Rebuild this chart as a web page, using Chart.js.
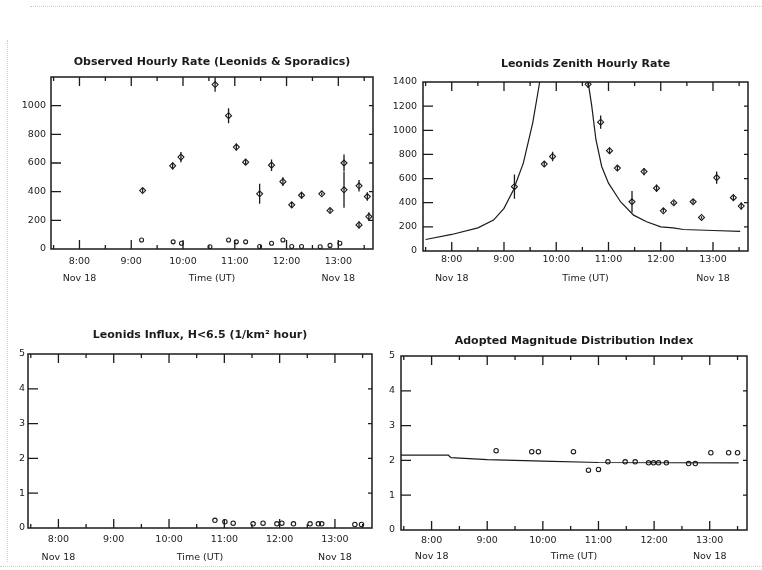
<!DOCTYPE html>
<html>
<head>
<meta charset="utf-8">
<title>Leonids - Nov 18</title>
<script src="https://cdn.jsdelivr.net/npm/chart.js@4/dist/chart.umd.min.js"></script>
<style>
  html, body { margin: 0; padding: 0; background: #fff; }
  #page { position: relative; width: 762px; height: 570px; overflow: hidden; background: #fff; }
  #page canvas { position: absolute; left: 0; top: 0; }
  .scan { position: absolute; border: 0 dotted #cdcdcd; }
</style>
</head>
<body>
<div id="page">
  <!-- faint scanner edges -->
  <div class="scan" style="left:30px; top:6px; width:732px; border-top-width:1px;"></div>
  <div class="scan" style="left:7px; top:40px; height:522px; border-left-width:1px;"></div>
  <div class="scan" style="left:0; top:566px; width:762px; border-top-width:1px;"></div>
  <canvas id="rateChart" width="762" height="570"></canvas>
  <canvas id="zhrChart" width="762" height="570"></canvas>
  <canvas id="fluxChart" width="762" height="570"></canvas>
  <canvas id="indexChart" width="762" height="570"></canvas>
</div>
<script>
// time axis shared by the four panels (hours UT, Nov 18)
const timeMin = 7.45;
const timeMax = 13.67;
const hourTicks = [8, 9, 10, 11, 12, 13];
const hourLabels = [['8:00', 'Nov 18'], '9:00', '10:00', '11:00', '12:00', ['13:00', 'Nov 18']];

// observed hourly rate, Leonids
const obsTime = [9.22, 9.80, 9.96, 10.62, 10.88, 11.03, 11.21, 11.48, 11.71, 11.93, 12.10, 12.29, 12.68, 12.84, 13.11, 13.11, 13.40, 13.40, 13.56, 13.59];
const obsRate = [408, 580, 641, 1147, 930, 711, 606, 385, 585, 470, 308, 375, 385, 268, 600, 413, 441, 168, 366, 226];
const obsErr = [15, 25, 35, 50, 52, 25, 20, 70, 40, 30, 20, 25, 10, 15, 60, 125, 40, 25, 30, 30];
// observed hourly rate, sporadics
const sporTime = [9.20, 9.81, 9.97, 10.52, 10.88, 11.03, 11.21, 11.48, 11.71, 11.93, 12.10, 12.29, 12.65, 12.84, 13.03];
const sporRate = [63, 50, 40, 16, 63, 50, 50, 17, 40, 63, 17, 17, 16, 25, 40];
const rateTicks = [0, 200, 400, 600, 800, 1000];

// Leonids zenith hourly rate
const zhrTime = [9.20, 9.77, 9.93, 10.61, 10.85, 11.02, 11.17, 11.45, 11.68, 11.92, 12.05, 12.25, 12.62, 12.78, 13.07, 13.39, 13.54];
const zhrRate = [533, 720, 783, 1381, 1067, 831, 687, 408, 658, 520, 333, 400, 408, 278, 608, 442, 372];
const zhrErr = [100, 25, 40, 30, 55, 25, 25, 90, 30, 30, 15, 15, 15, 10, 50, 20, 30];
// model profile (goes off the top of the panel around the peak)
const modelTime = [7.5, 8.0, 8.5, 8.8, 9.0, 9.18, 9.37, 9.55, 9.66, 9.72, 9.85, 10.0, 10.15, 10.3, 10.45, 10.55, 10.6, 10.68, 10.76, 10.87, 11.0, 11.23, 11.48, 11.73, 12.0, 12.24, 12.43, 13.0, 13.52];
const modelZhr = [95, 137, 192, 256, 353, 506, 728, 1062, 1340, 1500, 2200, 3200, 3600, 3000, 2100, 1650, 1430, 1200, 922, 700, 562, 408, 297, 242, 200, 192, 178, 170, 162];
const zhrTicks = [0, 200, 400, 600, 800, 1000, 1200, 1400];

// Leonids influx, H < 6.5
const fluxTime = [10.83, 11.01, 11.16, 11.52, 11.70, 11.95, 12.04, 12.25, 12.55, 12.70, 12.76, 13.36, 13.48];
const fluxVal = [0.22, 0.18, 0.14, 0.12, 0.14, 0.12, 0.14, 0.12, 0.12, 0.12, 0.12, 0.10, 0.10];
const unitTicks = [0, 1, 2, 3, 4, 5];

// adopted magnitude distribution index
const rTime = [9.16, 9.80, 9.92, 10.55, 10.82, 11.00, 11.17, 11.48, 11.66, 11.90, 11.99, 12.08, 12.22, 12.62, 12.74, 13.02, 13.34, 13.50];
const rVal = [2.28, 2.25, 2.25, 2.25, 1.72, 1.74, 1.96, 1.96, 1.96, 1.93, 1.93, 1.93, 1.93, 1.91, 1.91, 2.22, 2.22, 2.22];
const rLineTime = [7.45, 8.3, 8.35, 9.0, 10.0, 11.0, 13.52];
const rLineVal = [2.15, 2.15, 2.08, 2.02, 1.98, 1.94, 1.93];

const ink = '#1b1b1b';
const tickFont = { family: 'DejaVu Sans', size: 9.5 };
const titleFont = { family: 'DejaVu Sans', size: 11, weight: 'bold', lineHeight: 1.2 };

function pts(xs, ys) {
    return xs.map((x, i) => ({ x: x, y: ys[i] }));
}

// vertical error bars, read from dataset.errors
const errorBarPlugin = {
    id: 'errorBars',
    afterDatasetsDraw(chart) {
        const { ctx, chartArea: a, scales: { x, y } } = chart;
        ctx.save();
        ctx.beginPath();
        ctx.rect(a.left, a.top, a.right - a.left, a.bottom - a.top);
        ctx.clip();
        ctx.strokeStyle = ink;
        ctx.lineWidth = 1.3;
        chart.data.datasets.forEach(ds => {
            if (!ds.errors) return;
            ctx.beginPath();
            ds.data.forEach((p, i) => {
                const px = x.getPixelForValue(p.x);
                ctx.moveTo(px, y.getPixelForValue(p.y - ds.errors[i]));
                ctx.lineTo(px, y.getPixelForValue(p.y + ds.errors[i]));
            });
            ctx.stroke();
        });
        ctx.restore();
    }
};

// box round the plot with inward ticks on all sides
const framePlugin = {
    id: 'frame',
    afterDraw(chart) {
        const { ctx, chartArea: a, scales: { x, y } } = chart;
        ctx.save();
        ctx.strokeStyle = ink;
        ctx.lineWidth = 1.5;
        ctx.strokeRect(a.left, a.top, a.right - a.left, a.bottom - a.top);
        ctx.lineWidth = 1.3;
        ctx.beginPath();
        x.ticks.forEach(t => {
            const px = x.getPixelForValue(t.value);
            ctx.moveTo(px, a.bottom); ctx.lineTo(px, a.bottom - 9);
            ctx.moveTo(px, a.top); ctx.lineTo(px, a.top + 9);
            [t.value - 0.5, t.value + 0.5].forEach(h => {
                if (h <= x.min || h >= x.max) return;
                const hx = x.getPixelForValue(h);
                ctx.moveTo(hx, a.bottom); ctx.lineTo(hx, a.bottom - 4);
                ctx.moveTo(hx, a.top); ctx.lineTo(hx, a.top + 4);
            });
        });
        y.ticks.forEach(t => {
            if (t.value <= y.min || t.value >= y.max) return;
            const py = y.getPixelForValue(t.value);
            ctx.moveTo(a.left, py); ctx.lineTo(a.left + 10, py);
            ctx.moveTo(a.right, py); ctx.lineTo(a.right - 4, py);
        });
        ctx.stroke();
        ctx.restore();
    }
};

function pointSet(data, errors, style, radius) {
    return {
        data: data,
        errors: errors,
        showLine: false,
        pointStyle: style,
        pointRadius: radius,
        pointBorderColor: ink,
        pointBackgroundColor: 'rgba(0,0,0,0)',
        pointBorderWidth: 1.1
    };
}

function lineSet(data) {
    return {
        data: data,
        showLine: true,
        borderColor: ink,
        borderWidth: 1.2,
        pointRadius: 0,
        tension: 0
    };
}

// p.area is where the plot box sits on the page, titleY / line1Y / line2Y are text rows
function makePanel(id, p) {
    const lh = p.line2Y - p.line1Y;
    const xPad = p.line1Y - p.area.bottom - lh / 2;
    const xH = p.line2Y - p.area.bottom + lh / 2;
    const yW = Math.min(30, p.area.left);
    return new Chart(document.getElementById(id), {
        type: 'scatter',
        data: { datasets: p.datasets },
        options: {
            responsive: false,
            animation: false,
            events: [],
            layout: {
                padding: {
                    left: p.area.left - yW,
                    right: 762 - p.area.right,
                    top: 0,
                    bottom: 570 - p.area.bottom - xH
                }
            },
            plugins: {
                legend: { display: false },
                tooltip: { enabled: false },
                title: {
                    display: true,
                    text: p.title,
                    fullSize: false,
                    color: ink,
                    font: titleFont,
                    padding: { top: p.titleY - 6.6, bottom: p.area.top - p.titleY - 6.6 }
                }
            },
            scales: {
                x: {
                    type: 'linear',
                    min: timeMin,
                    max: timeMax,
                    grid: { display: false, drawTicks: false },
                    border: { display: false },
                    afterBuildTicks: s => { s.ticks = hourTicks.map(v => ({ value: v })); },
                    ticks: {
                        padding: xPad,
                        autoSkip: false,
                        maxRotation: 0,
                        color: ink,
                        font: Object.assign({ lineHeight: lh + 'px' }, tickFont),
                        callback: v => hourLabels[hourTicks.indexOf(v)]
                    },
                    title: {
                        display: true,
                        text: 'Time (UT)',
                        padding: 0,
                        color: ink,
                        font: Object.assign({ lineHeight: lh + 'px' }, tickFont)
                    },
                    afterFit: s => { s.height = xH; }
                },
                y: {
                    type: 'linear',
                    min: 0,
                    max: p.yMax,
                    grid: { display: false, drawTicks: false },
                    border: { display: false },
                    afterBuildTicks: s => { s.ticks = p.yTicks.map(v => ({ value: v })); },
                    ticks: {
                        padding: p.yPad,
                        color: ink,
                        font: tickFont,
                        callback: v => String(v)
                    },
                    afterFit: s => { s.width = yW; }
                }
            }
        },
        plugins: [errorBarPlugin, framePlugin]
    });
}

makePanel('rateChart', {
    title: 'Observed Hourly Rate (Leonids & Sporadics)',
    area: { left: 51, right: 373, top: 77, bottom: 249 },
    titleY: 61.7, line1Y: 261.7, line2Y: 278.3,
    yMax: 1200, yTicks: rateTicks, yPad: 5,
    datasets: [
        pointSet(pts(obsTime, obsRate), obsErr, 'rectRot', 3),
        pointSet(pts(sporTime, sporRate), null, 'circle', 2)
    ]
});

makePanel('zhrChart', {
    title: 'Leonids Zenith Hourly Rate',
    area: { left: 423, right: 748, top: 82, bottom: 251 },
    titleY: 63.7, line1Y: 259.7, line2Y: 279,
    yMax: 1400, yTicks: zhrTicks, yPad: 6,
    datasets: [
        lineSet(pts(modelTime, modelZhr)),
        pointSet(pts(zhrTime, zhrRate), zhrErr, 'rectRot', 3)
    ]
});

makePanel('fluxChart', {
    title: 'Leonids Influx, H<6.5 (1/km² hour)',
    area: { left: 28, right: 372, top: 354, bottom: 528 },
    titleY: 335, line1Y: 540, line2Y: 558,
    yMax: 5, yTicks: unitTicks, yPad: 3,
    datasets: [
        pointSet(pts(fluxTime, fluxVal), null, 'circle', 2.2)
    ]
});

makePanel('indexChart', {
    title: 'Adopted Magnitude Distribution Index',
    area: { left: 401, right: 747, top: 356, bottom: 530 },
    titleY: 341.3, line1Y: 540.8, line2Y: 556.7,
    yMax: 5, yTicks: unitTicks, yPad: 6,
    datasets: [
        lineSet(pts(rLineTime, rLineVal)),
        pointSet(pts(rTime, rVal), null, 'circle', 2.2)
    ]
});
</script>
</body>
</html>
